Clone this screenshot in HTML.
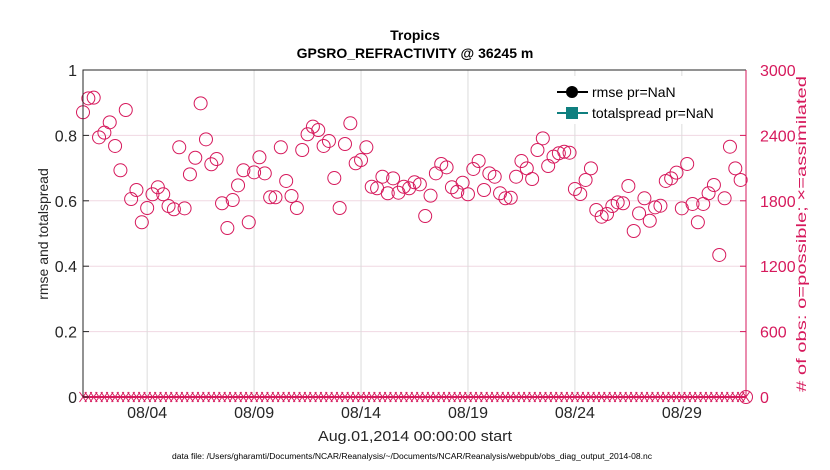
<!DOCTYPE html>
<html><head><meta charset="utf-8"><style>
html,body{margin:0;padding:0;background:#fff;}
svg{display:block;font-family:"Liberation Sans",Arial,sans-serif;}
</style></head><body>
<svg id="chart" width="830" height="470" viewBox="0 0 830 470">
<rect x="0" y="0" width="830" height="470" fill="#fff"/>
<text x="415" y="40" text-anchor="middle" font-size="14" font-weight="bold">Tropics</text>
<text x="415" y="58" text-anchor="middle" font-size="14" font-weight="bold">GPSRO_REFRACTIVITY @ 36245 m</text>
<g id="grid"></g>
<g id="marks"></g>
<g id="axes"></g>
<text transform="translate(48,234) rotate(-90)" text-anchor="middle" font-size="14" fill="#262626">rmse and totalspread</text>
<text transform="translate(806,234) rotate(-90)" text-anchor="middle" font-size="14" textLength="316" lengthAdjust="spacingAndGlyphs" fill="#d6195c"># of obs: o=possible; ×=assimilated</text>
<text x="415" y="441" text-anchor="middle" font-size="15" textLength="194" lengthAdjust="spacingAndGlyphs" fill="#262626">Aug.01,2014 00:00:00 start</text>
<text x="412" y="459" text-anchor="middle" font-size="8" textLength="480" lengthAdjust="spacingAndGlyphs" fill="#000">data file: /Users/gharamti/Documents/NCAR/Reanalysis/~/Documents/NCAR/Reanalysis/webpub/obs_diag_output_2014-08.nc</text>
<g>
<rect x="525" y="76" width="218" height="48" fill="#fff"/>
<line x1="557" y1="92" x2="588" y2="92" stroke="#000" stroke-width="2"/>
<circle cx="572" cy="92" r="6" fill="#000"/>
<text x="592" y="97" font-size="14">rmse pr=NaN</text>
<line x1="557" y1="113" x2="588" y2="113" stroke="#0f7f7f" stroke-width="2"/>
<rect x="566" y="107" width="12" height="12" fill="#0f7f7f"/>
<text x="592" y="118" font-size="14">totalspread pr=NaN</text>
</g>
</svg>
<script>
const possibleCounts = [2612,2740,2746,2382,2425,2520,2303,2080,2633,1816,1899,1603,1734,1860,1924,1860,1752,1722,2291,1731,
2043,2195,2694,2364,2135,2183,1777,1550,1807,1942,2080,1603,2061,2199,2052,1832,1832,2291,1982,1844,
1734,2266,2410,2480,2449,2303,2349,2009,1734,2321,2511,2144,2174,2291,1929,1915,2021,1869,2006,1874,
1929,1915,1970,1951,1660,1847,2052,2138,2107,1924,1883,1966,1860,2092,2165,1899,2052,2021,1869,1823,
1828,2021,2165,2098,2000,2266,2373,2119,2205,2236,2250,2241,1908,1862,1991,2098,1716,1654,1679,1752,
1786,1777,1936,1523,1685,1823,1617,1740,1755,1982,2006,2058,1731,2138,1771,1603,1771,1869,1945,1303,
1823,2296,2098,1991,0];
const assimilatedCounts = possibleCounts.map(()=>0);
const leftTicks = [0,0.2,0.4,0.6,0.8,1];
const leftTickLabels = ["0","0.2","0.4","0.6","0.8","1"];
const rightTicks = [0,600,1200,1800,2400,3000];
const dateTicks = [3,8,13,18,23,28];
const dateTickLabels = ["08/04","08/09","08/14","08/19","08/24","08/29"];

const L=83,R=746,T=70,B=397;
const NS="http://www.w3.org/2000/svg";
const xScale = d => L + d/31*(R-L);
const yLeft = v => B - v*(B-T);
const yRight = c => B - c/3000*(B-T);
function mk(tag, attrs, parent){const e=document.createElementNS(NS,tag);for(const k in attrs)e.setAttribute(k,attrs[k]);parent.appendChild(e);return e;}
const grid=document.getElementById('grid'), marks=document.getElementById('marks'), axes=document.getElementById('axes');

leftTicks.forEach((v,i)=>{
  if(i>0&&i<leftTicks.length-1){
    const g=mk('line',{x1:L,x2:R,y1:yLeft(v),y2:yLeft(v),stroke:'#f0d8e2','stroke-width':1},grid);
    
    
  }
  const t=mk('line',{x1:L,x2:L+6,y1:yLeft(v),y2:yLeft(v),stroke:'#262626'},axes);
  
  
  const lb=mk('text',{x:L-6,y:yLeft(v)+6,'text-anchor':'end','font-size':16,fill:'#262626'},axes);
  lb.textContent=leftTickLabels[i];
  
  
});
rightTicks.forEach(c=>{
  const t=mk('line',{x1:R-6,x2:R,y1:yRight(c),y2:yRight(c),stroke:'#d6195c'},axes);
  
  
  const lb=mk('text',{x:R+14,y:yRight(c)+6,'font-size':16,fill:'#d6195c'},axes);
  lb.textContent=String(c);
  
  
});
dateTicks.forEach((d,i)=>{
  const g=mk('line',{x1:xScale(d),x2:xScale(d),y1:T,y2:B,stroke:'#dcdcdc'},grid);
  
  
  const lb=mk('text',{x:xScale(d),y:418,'text-anchor':'middle','font-size':16,fill:'#262626'},axes);
  lb.textContent=dateTickLabels[i];
  
  
});
const ax=mk('path',{d:`M${L},${B}V${T}H${R}`,fill:'none',stroke:'#262626','stroke-width':1},axes);


const ar=mk('line',{x1:R,x2:R,y1:T,y2:B,stroke:'#d6195c'},axes);



const bl=mk('line',{x1:L,x2:R,y1:B,y2:B,stroke:'#d6195c','stroke-width':2},marks);


possibleCounts.forEach((c,i)=>{
  const x=xScale(i*0.25);
  const ci=mk('circle',{cx:x,cy:yRight(c),r:6.5,fill:'none',stroke:'#d6195c','stroke-width':1},marks);
  
  
  const y=yRight(assimilatedCounts[i]);
  const xm=mk('path',{d:`M${x-3.5},${y-5}L${x+3.5},${y+5}M${x-3.5},${y+5}L${x+3.5},${y-5}`,stroke:'#d6195c','stroke-width':1},marks);
  
  
});
</script>
</body></html>
